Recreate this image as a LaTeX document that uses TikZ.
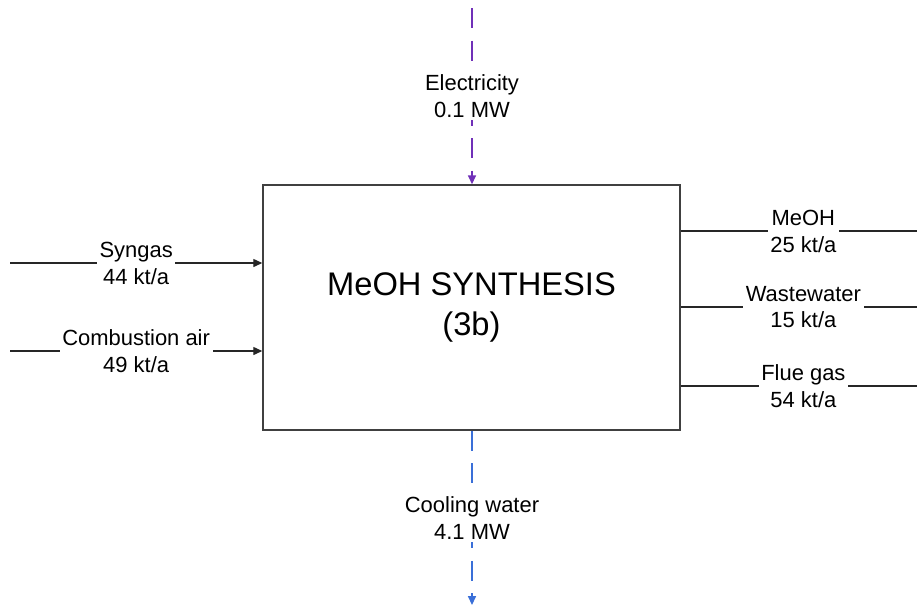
\documentclass[tikz,border=0pt]{standalone}
\usepackage{fontspec}
\setmainfont{Liberation Sans}
\usepackage{xcolor}
\usetikzlibrary{arrows.meta,calc}

\definecolor{elecpurple}{HTML}{7030B8}
\definecolor{coolblue}{HTML}{3A6FD8}

\tikzset{
  flow/.style={line width=0.6pt, draw=black!85, -{Triangle[length=5pt,width=4.5pt]}},
  util/.style={flow, line width=0.8pt, dash pattern=on 11.5pt off 7pt},
  lbl/.style={fill=white, inner sep=1.5pt, align=center, font=\fontsize{12.5}{15.3}\selectfont},
  unit/.style={draw=black!75, line width=0.9pt, minimum width=8.34cm, minimum height=4.9cm,
    align=center, font=\fontsize{18.6}{22.7}\selectfont}
}

\begin{document}
\begin{tikzpicture}[x=0.02cm, y=-0.02cm]
  \useasboundingbox (0,0) rectangle (917,606);

  % MeOH synthesis unit
  \node[unit] (synth) at (471.5,307.5) {MeOH SYNTHESIS\\(3b)};

  % feed streams
  \coordinate (syngasIn) at (10,263);
  \coordinate (airIn) at (10,351);
  \draw[flow] (syngasIn) -- node[lbl] (syngasLbl) {Syngas\\44 kt/a} (synth.west |- syngasIn);
  \draw[flow] (airIn) -- node[lbl] (airLbl) {Combustion air\\49 kt/a} (synth.west |- airIn);

  % product streams
  \coordinate (meohOut) at (926,231);
  \coordinate (wasteOut) at (926,307);
  \coordinate (flueOut) at (926,386);
  \draw[flow] (synth.east |- meohOut) -- node[lbl] (meohLbl) {MeOH\\25 kt/a} (meohOut);
  \draw[flow] (synth.east |- wasteOut) -- node[lbl] (wasteLbl) {Wastewater\\15 kt/a} (wasteOut);
  \draw[flow] (synth.east |- flueOut) -- node[lbl] (flueLbl) {Flue gas\\54 kt/a} (flueOut);

  % utilities
  \coordinate (elecIn) at (472,8);
  \coordinate (coolOut) at (472,605);
  \draw[util, draw=elecpurple] (elecIn) -- node[lbl] (elecLbl) {Electricity\\0.1 MW} (synth.north -| elecIn);
  \draw[util, draw=coolblue] (synth.south -| coolOut) -- node[lbl] (coolLbl) {Cooling water\\4.1 MW} (coolOut);
\end{tikzpicture}
\end{document}
